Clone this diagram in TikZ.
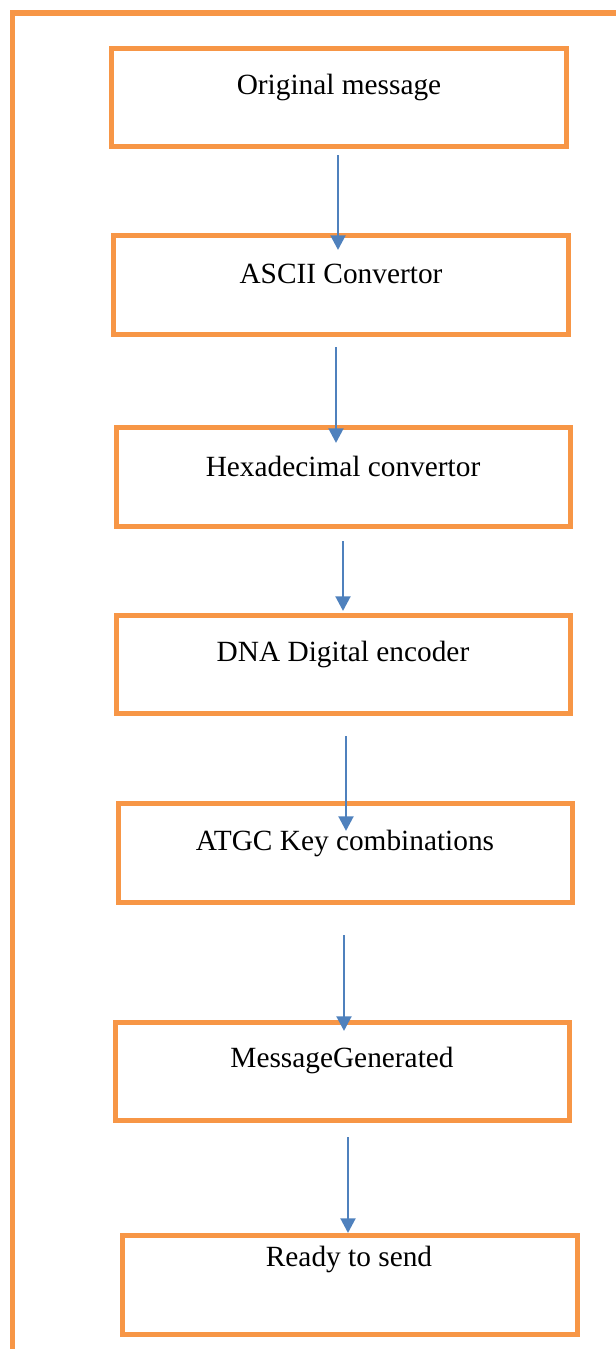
\documentclass[tikz,border=0pt]{standalone}
\usepackage{fontspec}
\setmainfont{Liberation Serif}
\usetikzlibrary{arrows.meta}
\definecolor{boxorange}{HTML}{F79646}
\definecolor{arrowblue}{HTML}{4F81BD}
\tikzset{
  stepbox/.style={draw=boxorange, line width=3.8pt, minimum width=341pt, minimum height=74pt, inner sep=0pt, fill=none},
  txt/.style={font=\fontsize{22}{26}\selectfont, inner sep=0pt, text=black},
  arr/.style={draw=arrowblue, line width=2.2pt, -{Triangle[width=11pt,length=11pt]}},
  frame/.style={draw=boxorange, line width=3.8pt, line join=miter}
}
\begin{document}
\begin{tikzpicture}[x=0.75pt,y=-0.75pt]
\useasboundingbox (0,0) rectangle (615,1349);
% outer open frame
\coordinate (fb) at (12.5,1352);
\coordinate (fc) at (12.5,13);
\coordinate (fr) at (618,13);
\draw[frame] (fb) -- (fc) -- (fr);
% boxes
\node[stepbox] (b1) at (339,97.5) {};
\node[stepbox] (b2) at (341,285) {};
\node[stepbox] (b3) at (343.5,477) {};
\node[stepbox] (b4) at (343.5,664.5) {};
\node[stepbox] (b5) at (345.5,853) {};
\node[stepbox] (b6) at (342.5,1071.5) {};
\node[stepbox] (b7) at (350,1285) {};
% texts
\node[txt] (t1) at (339,87) {Original message};
\node[txt] (t2) at (341,274) {ASCII Convertor};
\node[txt] (t3) at (343,466) {Hexadecimal convertor};
\node[txt] (t4) at (343,654) {DNA Digital encoder};
\node[txt] (t5) at (345,843) {ATGC Key combinations};
\node[txt] (t6) at (342,1060) {MessageGenerated};
\node[txt] (t7) at (349,1259) {Ready to send};
% arrows
\coordinate (a1s) at (338,155); \coordinate (a1e) at (338,250);
\coordinate (a2s) at (336,347); \coordinate (a2e) at (336,443);
\coordinate (a3s) at (343,541); \coordinate (a3e) at (343,611);
\coordinate (a4s) at (346,736); \coordinate (a4e) at (346,831);
\coordinate (a5s) at (344,935); \coordinate (a5e) at (344,1031);
\coordinate (a6s) at (348,1137); \coordinate (a6e) at (348,1233);
\draw[arr] (a1s) -- (a1e);
\draw[arr] (a2s) -- (a2e);
\draw[arr] (a3s) -- (a3e);
\draw[arr] (a4s) -- (a4e);
\draw[arr] (a5s) -- (a5e);
\draw[arr] (a6s) -- (a6e);
\end{tikzpicture}
\end{document}
